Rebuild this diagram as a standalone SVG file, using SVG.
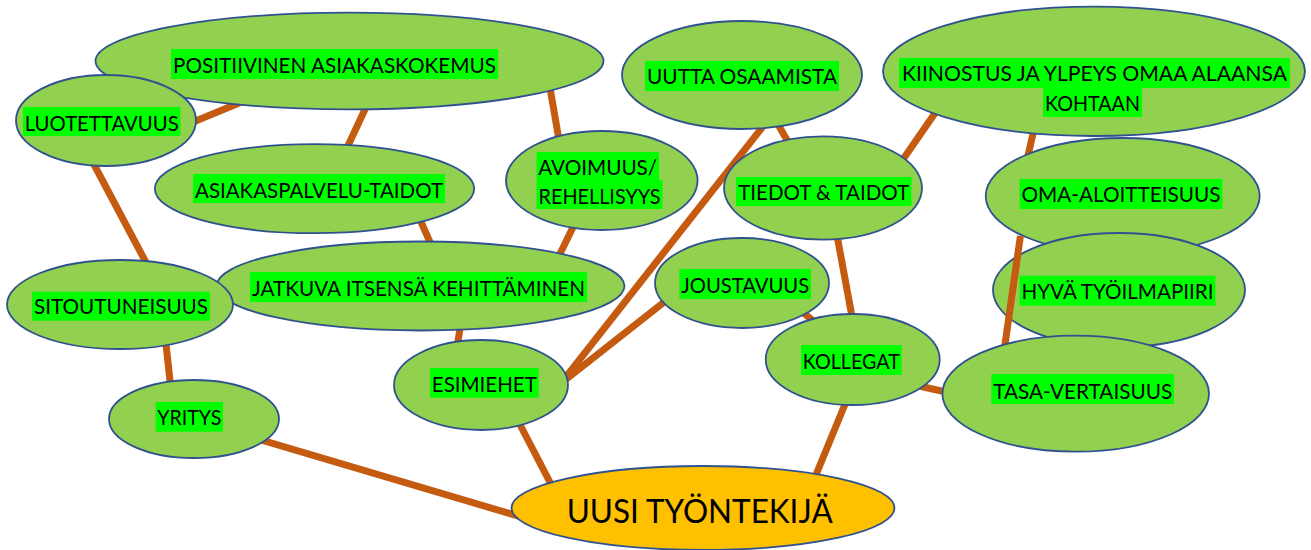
<svg xmlns="http://www.w3.org/2000/svg" width="1311" height="550" viewBox="0 0 1311 550">
<style>
.n{fill:#92D050;stroke:#2F528F;stroke-width:1.8}
.core{fill:#FFC000;stroke:#2F528F;stroke-width:1.8}
.hl{fill:#00FF00}
.t{font-family:"Lato","Liberation Sans",sans-serif;font-size:21.5px;fill:#000;text-anchor:middle}
.big{font-family:"Lato","Liberation Sans",sans-serif;font-size:32.5px;fill:#000;text-anchor:middle}
.c{stroke:#C55A11;stroke-width:7;fill:none}
</style>
<rect width="1311" height="550" fill="#fff"/>
<g id="connectors">
<line class="c" x1="186" y1="125" x2="250" y2="98.6"/>
<line class="c" x1="367" y1="105" x2="346" y2="150"/>
<line class="c" x1="550" y1="88" x2="559" y2="140"/>
<line class="c" x1="90" y1="157" x2="150" y2="270"/>
<line class="c" x1="418" y1="215" x2="437" y2="258"/>
<line class="c" x1="576" y1="221" x2="556" y2="262"/>
<line class="c" x1="165" y1="335" x2="171" y2="390"/>
<line class="c" x1="461" y1="322" x2="457" y2="348"/>
<line class="c" x1="250" y1="436.7" x2="530" y2="519.5"/>
<line class="c" x1="515" y1="415" x2="555" y2="492"/>
<line class="c" x1="562" y1="382" x2="768" y2="120"/>
<line class="c" x1="560" y1="384" x2="675" y2="293.5"/>
<line class="c" x1="775" y1="119" x2="792" y2="149"/>
<line class="c" x1="897" y1="168" x2="942" y2="103"/>
<line class="c" x1="836" y1="230" x2="853" y2="322"/>
<line class="c" x1="795" y1="306" x2="822" y2="328"/>
<line class="c" x1="910" y1="384" x2="955" y2="394"/>
<line class="c" x1="848" y1="397" x2="813" y2="482"/>
<line class="c" x1="1035" y1="125" x2="1027" y2="160"/>
</g>
<g id="positiivinen">
<ellipse class="n" cx="349.5" cy="61" rx="254" ry="48.3"/>
<rect class="hl" x="171" y="49" width="327" height="30"/>
<text class="t" x="334.5" y="73" textLength="323" lengthAdjust="spacingAndGlyphs">POSITIIVINEN ASIAKASKOKEMUS</text>
</g>
<g id="luotettavuus">
<ellipse class="n" cx="106" cy="120.5" rx="90" ry="45.5"/>
<rect class="hl" x="23" y="107" width="157.5" height="29"/>
<text class="t" x="101.7" y="131" textLength="154" lengthAdjust="spacingAndGlyphs">LUOTETTAVUUS</text>
</g>
<g id="jatkuva">
<ellipse class="n" cx="420.5" cy="286" rx="204" ry="44.5"/>
<rect class="hl" x="250" y="272" width="337" height="30"/>
<text class="t" x="418.5" y="296" textLength="333" lengthAdjust="spacingAndGlyphs">JATKUVA ITSENSÄ KEHITTÄMINEN</text>
</g>
<g id="sitoutuneisuus">
<ellipse class="n" cx="120" cy="304.5" rx="113" ry="44.5"/>
<rect class="hl" x="32" y="291.7" width="178" height="29"/>
<text class="t" x="121" y="314" textLength="174" lengthAdjust="spacingAndGlyphs">SITOUTUNEISUUS</text>
</g>
<g id="asiakaspalvelu">
<ellipse class="n" cx="314.5" cy="188.7" rx="159.7" ry="44.5"/>
<rect class="hl" x="193" y="174" width="252" height="29"/>
<text class="t" x="319" y="198" textLength="248" lengthAdjust="spacingAndGlyphs">ASIAKASPALVELU-TAIDOT</text>
</g>
<g id="avoimuus">
<ellipse class="n" cx="601.8" cy="180.5" rx="95.8" ry="49.5"/>
<rect class="hl" x="536.5" y="152" width="122.5" height="28"/>
<rect class="hl" x="536.5" y="180" width="126" height="29"/>
<text class="t" x="597.7" y="175" textLength="119" lengthAdjust="spacingAndGlyphs">AVOIMUUS/</text>
<text class="t" x="599.5" y="204" textLength="122" lengthAdjust="spacingAndGlyphs">REHELLISYYS</text>
</g>
<g id="uutta">
<ellipse class="n" cx="742" cy="75" rx="120" ry="54"/>
<rect class="hl" x="645" y="61" width="194" height="30"/>
<text class="t" x="742" y="84" textLength="190" lengthAdjust="spacingAndGlyphs">UUTTA OSAAMISTA</text>
</g>
<g id="tiedot">
<ellipse class="n" cx="823" cy="188" rx="99" ry="51.7"/>
<rect class="hl" x="736" y="177" width="175.5" height="29"/>
<text class="t" x="823.7" y="199.5" textLength="171" lengthAdjust="spacingAndGlyphs">TIEDOT &amp; TAIDOT</text>
</g>
<g id="kiinostus">
<ellipse class="n" cx="1094" cy="71.3" rx="211" ry="64.7"/>
<rect class="hl" x="899" y="58" width="391" height="30"/>
<rect class="hl" x="1043" y="88" width="99" height="29"/>
<text class="t" x="1094.5" y="81" textLength="385" lengthAdjust="spacingAndGlyphs">KIINOSTUS JA YLPEYS OMAA ALAANSA</text>
<text class="t" x="1092.5" y="110.5" textLength="95" lengthAdjust="spacingAndGlyphs">KOHTAAN</text>
</g>
<g id="joustavuus">
<ellipse class="n" cx="742" cy="283" rx="87" ry="45"/>
<rect class="hl" x="679.4" y="269" width="131.6" height="30"/>
<text class="t" x="745.2" y="293" textLength="128" lengthAdjust="spacingAndGlyphs">JOUSTAVUUS</text>
</g>
<g id="kollegat">
<ellipse class="n" cx="852.7" cy="359.5" rx="87" ry="45.5"/>
<rect class="hl" x="801" y="345" width="100.6" height="30"/>
<text class="t" x="851.3" y="369" textLength="97" lengthAdjust="spacingAndGlyphs">KOLLEGAT</text>
</g>
<g id="oma-aloitteisuus">
<ellipse class="n" cx="1122.7" cy="196" rx="137" ry="58"/>
<rect class="hl" x="1019.5" y="179" width="203" height="30"/>
<text class="t" x="1121" y="202" textLength="199" lengthAdjust="spacingAndGlyphs">OMA-ALOITTEISUUS</text>
</g>
<g id="hyva">
<ellipse class="n" cx="1119" cy="290" rx="126" ry="57"/>
<rect class="hl" x="1019.5" y="275.7" width="196" height="30"/>
<text class="t" x="1117.5" y="298.5" textLength="192" lengthAdjust="spacingAndGlyphs">HYVÄ TYÖILMAPIIRI</text>
</g>
<g id="connectors-front">
<line class="c" x1="1020.4" y1="236" x2="1004.5" y2="348"/>
</g>
<g id="tasa-vertaisuus">
<ellipse class="n" cx="1075.7" cy="393.7" rx="133.3" ry="58"/>
<rect class="hl" x="991.4" y="374" width="182.6" height="30"/>
<text class="t" x="1082.7" y="399" textLength="179" lengthAdjust="spacingAndGlyphs">TASA-VERTAISUUS</text>
</g>
<g id="esimiehet">
<ellipse class="n" cx="481" cy="385" rx="87" ry="45"/>
<rect class="hl" x="430" y="368" width="108.6" height="29.7"/>
<text class="t" x="484.3" y="391.7" textLength="105" lengthAdjust="spacingAndGlyphs">ESIMIEHET</text>
</g>
<g id="yritys">
<ellipse class="n" cx="194" cy="419" rx="85" ry="39"/>
<rect class="hl" x="155.6" y="402" width="67.4" height="29.7"/>
<text class="t" x="189.3" y="425" textLength="64" lengthAdjust="spacingAndGlyphs">YRITYS</text>
</g>
<g id="uusi-tyontekija">
<ellipse class="core" cx="703" cy="508" rx="191.5" ry="42"/>
<text class="big" x="699.7" y="523.3" textLength="266" lengthAdjust="spacingAndGlyphs">UUSI TYÖNTEKIJÄ</text>
</g>
</svg>
